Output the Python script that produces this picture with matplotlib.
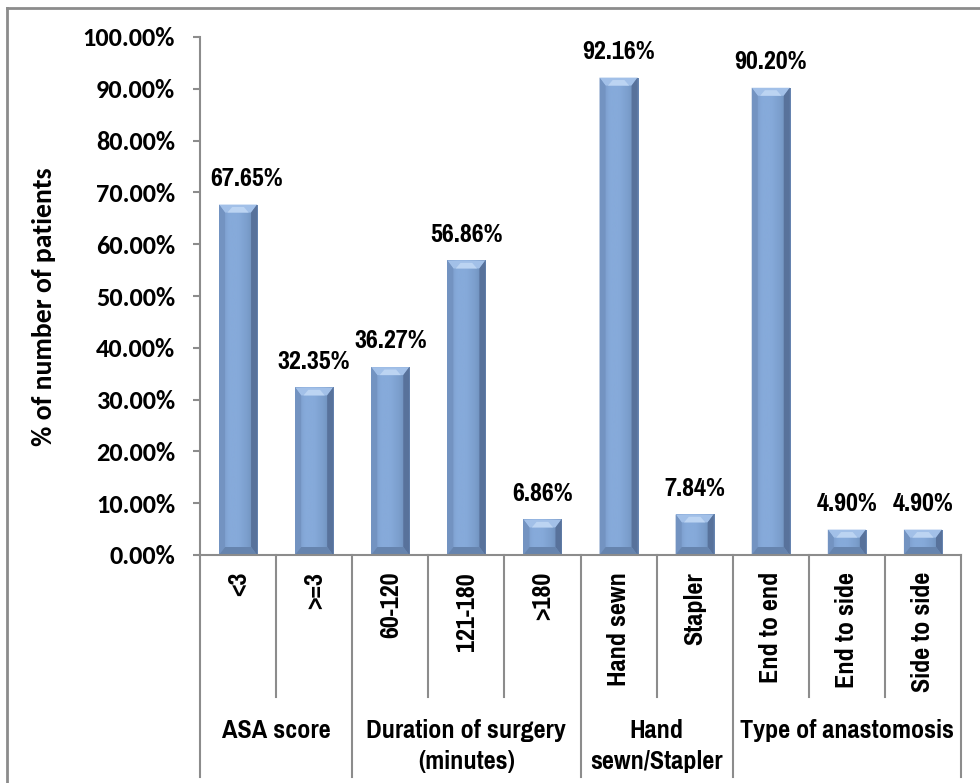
import matplotlib
matplotlib.use("Agg")
import matplotlib.pyplot as plt
import numpy as np
from matplotlib.patches import Polygon
from matplotlib.lines import Line2D
from matplotlib.colors import LinearSegmentedColormap
from matplotlib import font_manager

# ---- data ----
sub_labels = ["<3", ">=3", "60-120", "121-180", ">180", "Hand sewn", "Stapler",
              "End to end", "End to side", "Side to side"]
values = [67.65, 32.35, 36.27, 56.86, 6.86, 92.16, 7.84, 90.20, 4.90, 4.90]
group_labels = ["ASA score", "Duration of surgery\n(minutes)", "Hand\nsewn/Stapler",
                "Type of anastomosis"]
group_sizes = [2, 3, 2, 3]
y_ticks = [0, 10, 20, 30, 40, 50, 60, 70, 80, 90, 100]
y_label = "% of number of patients"

names = {f.name for f in font_manager.fontManager.ttflist}
if "Pragati Narrow" in names:
    lab_font = dict(family=["Pragati Narrow", "DejaVu Sans"], weight="bold", size=20.5)
else:
    lab_font = dict(family=["Liberation Sans", "DejaVu Sans"], weight="bold", size=15.5)
cal = ["Carlito", "Lato", "DejaVu Sans"] if "Carlito" in names else ["Lato", "DejaVu Sans"]

W, H = 980, 783
fig = plt.figure(figsize=(W / 100, H / 100), dpi=100)
ax_left, ax_right, ax_top, ax_bot = 200, 961, 37, 555
ax = fig.add_axes([ax_left / W, (H - ax_bot) / H, (ax_right - ax_left) / W, (ax_bot - ax_top) / H])

n = len(values)
x = np.arange(n)
bw = 0.5
face = "#7EA2D1"
bars = ax.bar(x, values, width=bw, color=face, edgecolor="none", zorder=2)
ax.set_xlim(-0.5, n - 0.5)
ax.set_ylim(0, 100)

ax_w_px = ax_right - ax_left
ax_h_px = ax_bot - ax_top
px_x = n / ax_w_px
px_y = 100 / ax_h_px
bx = 6 * px_x
by = 8 * px_y

grad_cmap = LinearSegmentedColormap.from_list(
    "g", ["#7393C2", "#86AADA", "#86AADA", "#7A9DCB", "#6684B0"])
grad = np.linspace(0, 1, 64).reshape(1, -1)

for xi, v, b in zip(x, values, bars):
    x0, x1 = xi - bw / 2, xi + bw / 2
    y0, y1 = 0, v
    im = ax.imshow(grad, cmap=grad_cmap, extent=[x0, x1, y0, y1], aspect="auto",
                   interpolation="bicubic", zorder=2.1)
    im.set_clip_path(b)
    polys = [
        ([(x0, y1), (x1, y1), (x1 - bx, y1 - by), (x0 + bx, y1 - by)], "#A2C0E8"),
        ([(x0, y0), (x0, y1), (x0 + bx, y1 - by), (x0 + bx, y0 + by)], "#7393C1"),
        ([(x1, y0), (x1, y1), (x1 - bx, y1 - by), (x1 - bx, y0 + by)], "#58729B"),
        ([(x0, y0), (x1, y0), (x1 - bx, y0 + by), (x0 + bx, y0 + by)], "#6684AE"),
    ]
    for pts, c in polys:
        ax.add_patch(Polygon(pts, closed=True, facecolor=c, edgecolor="none", zorder=2.2))
    ax.add_patch(Polygon([(x0 + 2.2 * bx, y1 - 0.3 * by), (x1 - 2.2 * bx, y1 - 0.3 * by),
                          (x1 - 1.4 * bx, y1 - by), (x0 + 1.4 * bx, y1 - by)],
                         closed=True, facecolor="#BCD4F2", edgecolor="none", zorder=2.3))

for i, (xi, v) in enumerate(zip(x, values)):
    dx = 6 if i == 0 else 0
    ax.annotate(f"{v:.2f}%", (xi, v), xytext=(dx, 13.5), textcoords="offset points",
                ha="center", va="baseline", **lab_font)

spine_c = "#8C8C8C"
for s in ["top", "right"]:
    ax.spines[s].set_visible(False)
for s in ["left", "bottom"]:
    ax.spines[s].set_color(spine_c)
    ax.spines[s].set_linewidth(1.5)
ax.set_yticks(y_ticks)
ax.set_yticklabels([f"{t:.2f}%" for t in y_ticks], family=cal, weight="bold", fontsize=19)
ax.tick_params(axis="y", direction="out", length=5, width=1.5, color=spine_c, pad=13)
ax.set_xticks([])
ax.set_ylabel(y_label, family=cal, weight="bold", fontsize=20, labelpad=0)
ax.yaxis.set_label_coords((56 - ax_left) / ax_w_px, 0.48)

xt = ax.get_xaxis_transform()
sub_bottom = -(697 - ax_bot) / ax_h_px
grp_bottom = -(777 - ax_bot) / ax_h_px
bounds = np.concatenate([[0], np.cumsum(group_sizes)]) - 0.5
for k in range(1, n):
    b = k - 0.5
    is_grp = np.any(np.isclose(bounds, b))
    yb = grp_bottom if is_grp else sub_bottom
    ax.plot([b, b], [0, yb], transform=xt, color=spine_c, lw=1.5, clip_on=False)
for b in [bounds[0], bounds[-1]]:
    ax.plot([b, b], [0, grp_bottom], transform=xt, color=spine_c, lw=1.5, clip_on=False)

sub_top = -(572 - ax_bot) / ax_h_px
for xi, lab in zip(x, sub_labels):
    ax.text(xi, sub_top, lab, transform=xt, rotation=90, ha="center", va="top", **lab_font)

grp_top = -(719 - ax_bot) / ax_h_px
for gi, glab in enumerate(group_labels):
    cx = (bounds[gi] + bounds[gi + 1]) / 2
    ax.text(cx, grp_top, glab, transform=xt, ha="center", va="top", linespacing=1.4,
            multialignment="center", **lab_font)

fig.add_artist(Line2D([7 / W, 1], [1 - 8 / H, 1 - 8 / H], transform=fig.transFigure,
                      color="#8C8C8C", lw=2))
fig.add_artist(Line2D([7 / W, 7 / W], [0, 1 - 8 / H], transform=fig.transFigure,
                      color="#8C8C8C", lw=2))

fig.savefig("out.png", dpi=100)
